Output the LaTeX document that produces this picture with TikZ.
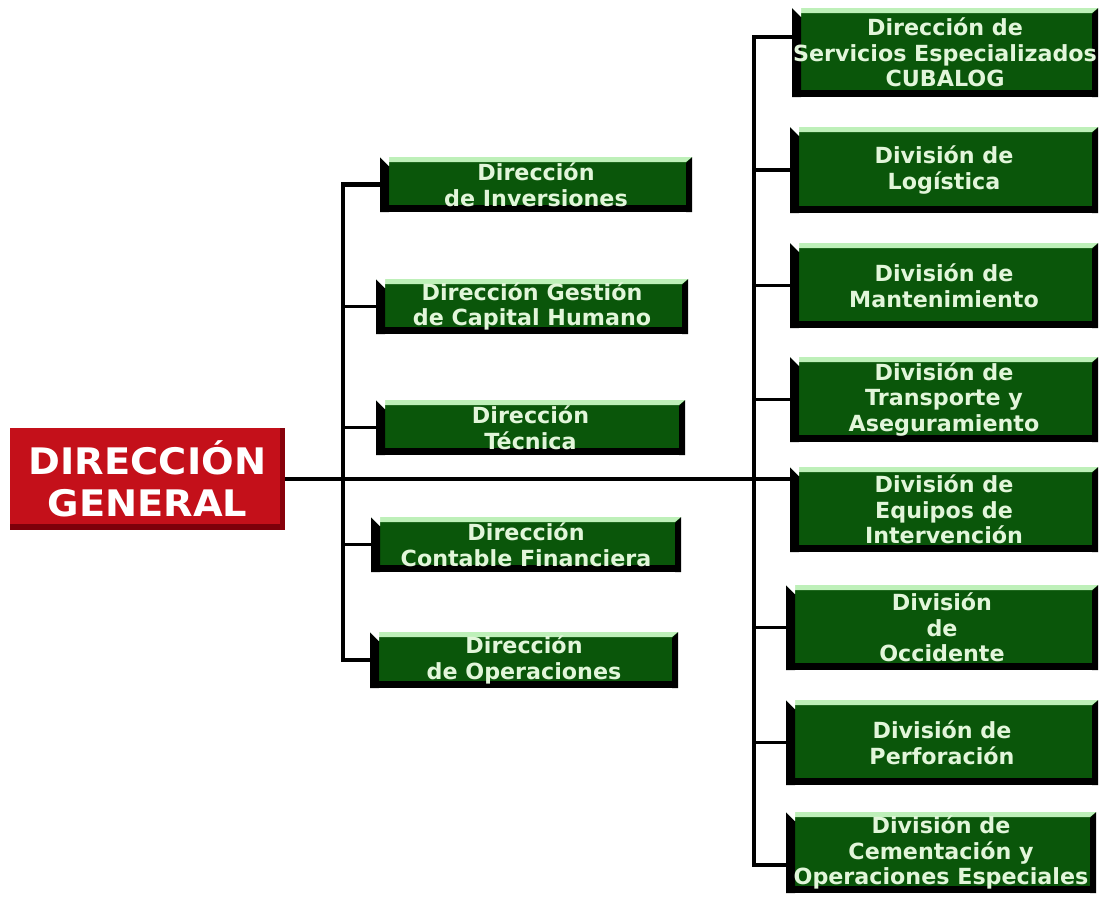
\documentclass[tikz,border=0pt]{standalone}
\usepackage{fontspec}
\newfontfamily\dvs[FakeStretch=1.0]{DejaVu Sans}
\newfontfamily\dvr[FakeStretch=1.05]{DejaVu Sans}
\usetikzlibrary{calc}
\newdimen\pxu \pxu=0.025cm
\definecolor{dkgreen}{RGB}{10,86,10}
\definecolor{topgreen}{RGB}{190,240,185}
\definecolor{txtgreen}{RGB}{226,246,218}
\definecolor{dgred}{RGB}{196,16,26}
\definecolor{dgdark}{RGB}{125,0,10}
\tikzset{
  gbox/.style={rectangle, inner sep=0pt, outer sep=0pt, fill=dkgreen, text=txtgreen,
    font=\dvs\bfseries\fontsize{15.8}{18.3}\selectfont, align=center,
    path picture={
      \path (path picture bounding box.north west) coordinate (pA)
            (path picture bounding box.north east) coordinate (pB)
            (path picture bounding box.south east) coordinate (pC)
            (path picture bounding box.south west) coordinate (pD);
      \fill[black] (pD) -- (pA) -- ([shift={(9\pxu,-9\pxu)}]pA) -- ([xshift=9\pxu]pD) -- cycle;
      \fill[black] (pC) -- (pB) -- ([shift={(-6\pxu,-6\pxu)}]pB) -- ([xshift=-6\pxu]pC) -- cycle;
      \fill[black] (pD) rectangle ([yshift=7\pxu]pC);
      \fill[topgreen] ([xshift=9\pxu]pA) -- (pB) -- ([shift={(-6\pxu,-5\pxu)}]pB) -- ([shift={(9\pxu,-5\pxu)}]pA) -- cycle;
      \fill[white] (pA) -- ([xshift=9\pxu]pA) -- ([shift={(9\pxu,-9\pxu)}]pA) -- cycle;
    }},
  rbox/.style={rectangle, inner sep=0pt, outer sep=0pt, fill=dgred, text=white,
    font=\dvr\bfseries\fontsize{26}{30}\selectfont, align=center,
    path picture={
      \path (path picture bounding box.north east) coordinate (qB)
            (path picture bounding box.south east) coordinate (qC)
            (path picture bounding box.south west) coordinate (qD);
      \fill[dgdark] (qD) rectangle ([yshift=6\pxu]qC);
      \fill[dgdark!85!dgred] (qC) rectangle ([xshift=-5\pxu]qB);
    }},
  trunk/.style={line width=3.4pt, line join=miter},
  conn/.style={line width=2.6pt}
}
\newcommand\gb[6]{\node[gbox, minimum width={(#4-#2)*\pxu}, minimum height={(#5-#3)*\pxu}] (#1) at ({(#2+#4)/2},{(#3+#5)/2}) {#6};}
\begin{document}
\begin{tikzpicture}[x=0.025cm,y=-0.025cm]
\useasboundingbox[fill=white] (0,0) rectangle (1104,897);
\node[rbox, minimum width=275\pxu, minimum height=102\pxu] (dg) at (147.5,479) {DIRECCIÓN\\GENERAL};
\gb{l1}{380}{157}{692}{212}{Dirección\\de Inversiones}
\gb{l2}{376}{279}{688}{334}{Dirección Gestión\\de Capital Humano}
\gb{l3}{376}{400}{685}{455}{Dirección\\Técnica}
\gb{l4}{371}{517}{681}{572}{Dirección\\Contable Financiera}
\gb{l5}{370}{632}{678}{688}{Dirección\\de Operaciones}
\gb{r1}{792}{8}{1098}{97}{Dirección de\\Servicios Especializados\\CUBALOG}
\gb{r2}{790}{127}{1098}{213}{División de\\Logística}
\gb{r3}{790}{243}{1098}{328}{División de\\Mantenimiento}
\gb{r4}{790}{357}{1098}{442}{División de\\Transporte y\\Aseguramiento}
\gb{r5}{790}{467}{1098}{552}{División de\\Equipos de\\Intervención}
\gb{r6}{786}{585}{1098}{670}{División\\de\\Occidente}
\gb{r7}{786}{700}{1098}{785}{División de\\Perforación}
\gb{r8}{786}{812}{1096}{893}{División de\\Cementación y\\Operaciones Especiales}
\coordinate (lx) at (343,0);
\coordinate (rx) at (754,0);
\coordinate (rtop) at (754,37);
\coordinate (rbot) at (754,865);
\draw[trunk] (l1.west) -- (lx |- l1.west) -- (lx |- l5.west) -- (l5.west);
\foreach \n in {l2,l3,l4} \draw[conn] (lx |- \n.west) -- (\n.west);
\draw[trunk] (rtop -| r1.west) -- (rtop) -- (rbot) -- (rbot -| r8.west);
\foreach \n in {r2,r3,r4,r6,r7} \draw[conn] (rx |- \n.west) -- (\n.west);
\draw[conn] (dg.east) -- (dg.east -| r5.west);
\end{tikzpicture}
\end{document}
